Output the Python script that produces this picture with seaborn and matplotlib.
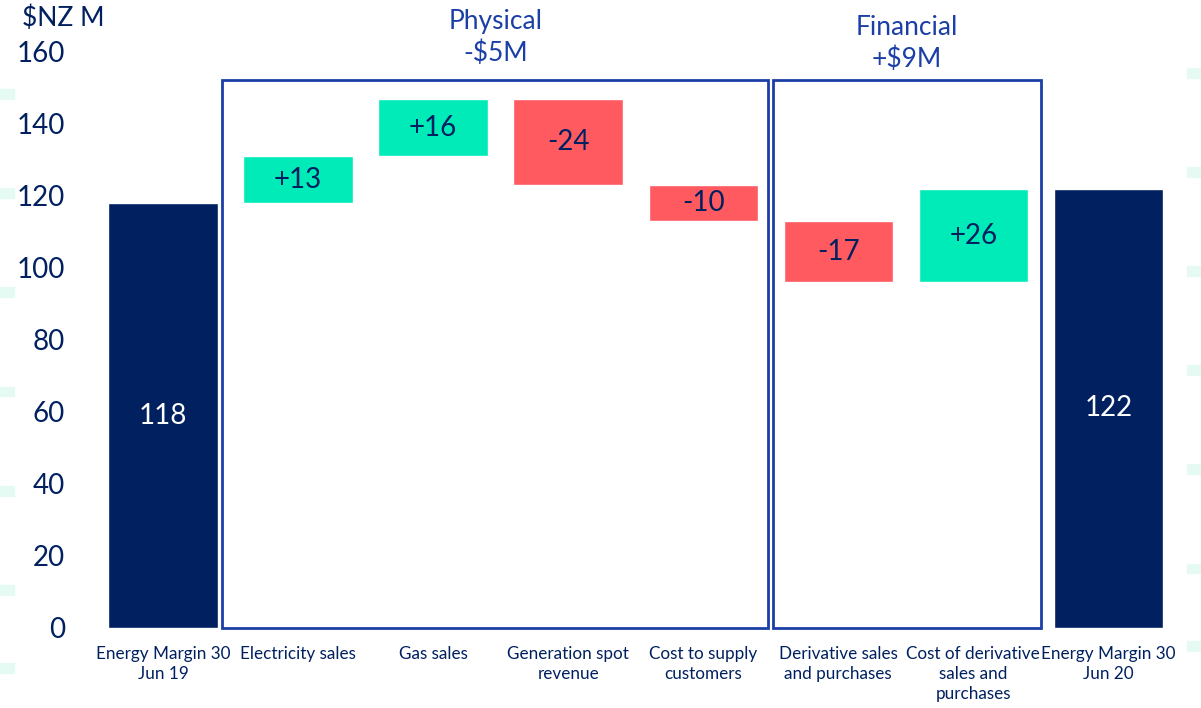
import pandas as pd
import seaborn as sns
import matplotlib.pyplot as plt
from matplotlib.patches import Rectangle

# data ($NZ M)
categories = ["Energy Margin 30\nJun 19", "Electricity sales", "Gas sales",
              "Generation spot\nrevenue", "Cost to supply\ncustomers",
              "Derivative sales\nand purchases", "Cost of derivative\nsales and\npurchases",
              "Energy Margin 30\nJun 20"]
changes = [118, 13, 16, -24, -10, -17, 26, 122]
kinds = ["total", "step", "step", "step", "step", "step", "step", "total"]
labels = ["118", "+13", "+16", "-24", "-10", "-17", "+26", "122"]

groups = [("Physical", "-$5M", 1, 4), ("Financial", "+$9M", 5, 6)]

NAVY = "#002060"
TEAL = "#00EBB7"
RED = "#FF5A5F"
BLUE = "#1B3FA6"

# running totals -> floating bar bottoms
bottoms, heights, run = [], [], 0
for c, k in zip(changes, kinds):
    if k == "total":
        bottoms.append(0)
        heights.append(c)
        run = c
    else:
        bottoms.append(run + min(c, 0))
        heights.append(abs(c))
        run += c

df = pd.DataFrame({"cat": categories, "bottom": bottoms, "height": heights,
                   "change": changes, "kind": kinds, "label": labels})
df["colour"] = [NAVY if k == "total" else (TEAL if c > 0 else RED)
                for k, c in zip(kinds, changes)]

sns.set_theme(style="white")
plt.rcParams["font.family"] = ["Lato", "DejaVu Sans"]

fig = plt.figure(figsize=(12.01, 7.08), dpi=100)
ax = fig.add_axes([0.075, 0.113, 0.912, 0.8136])

for col in [NAVY, TEAL, RED]:
    sub = df[df["colour"] == col]
    sns.barplot(data=sub, x="cat", y="height", order=categories, bottom=sub["bottom"].values,
                color=col, saturation=1, width=0.81, ax=ax, zorder=3)

ax.set_xlim(-0.54, 7.57)
ax.set_ylim(0, 160)
ax.set_yticks(range(0, 161, 20))
ax.tick_params(axis="y", labelsize=20, labelcolor=NAVY, length=0, pad=18)
ax.tick_params(axis="x", labelsize=12.3, labelcolor=NAVY, length=0, pad=13)
for t in ax.get_xticklabels():
    t.set_linespacing(1.3)
ax.set_xlabel("")
ax.set_ylabel("")
sns.despine(ax=ax, left=True, bottom=True)

# value labels
for i, row in df.iterrows():
    ax.text(i, row["bottom"] + row["height"] / 2, row["label"], ha="center", va="center",
            fontsize=20, color="white" if row["kind"] == "total" else NAVY, zorder=5)

# group boxes with titles
for name, total, first, last in groups:
    x0 = first - 0.56 if first == 1 else first - 0.48
    x1 = last + 0.48 if last == 4 else last + 0.50
    ax.add_patch(Rectangle((x0, 0), x1 - x0, 152.2, fill=False, edgecolor=BLUE,
                           linewidth=2, zorder=2, clip_on=False))
    lift = 4 if name == "Physical" else 2.3
    ax.text((x0 + x1) / 2, 152.2 + lift, f"{name}\n{total}", ha="center", va="bottom",
            fontsize=19, color=BLUE, linespacing=1.3, clip_on=False)

fig.text(0.018, 0.974, "$NZ M", fontsize=19, color=NAVY, va="center", ha="left")

# faint background dashes at the edges
for yy in [0.86, 0.72, 0.58, 0.44, 0.30, 0.16, 0.05]:
    fig.patches.append(Rectangle((0.0, yy), 0.012, 0.014, transform=fig.transFigure,
                                 color="#E6FAF4", zorder=0))
    fig.patches.append(Rectangle((0.988, yy + 0.03), 0.012, 0.014, transform=fig.transFigure,
                                 color="#E6FAF4", zorder=0))

fig.savefig("out.png", dpi=100, facecolor="white")
